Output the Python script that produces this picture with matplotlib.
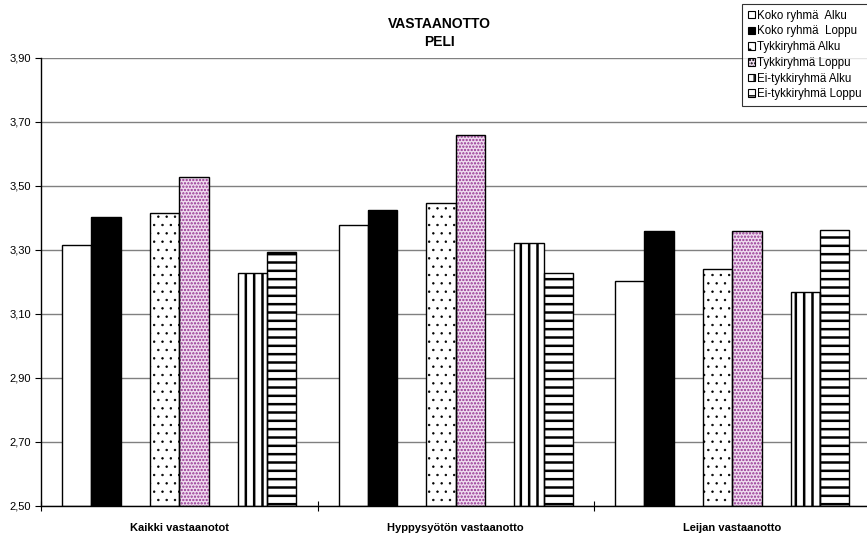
import matplotlib
matplotlib.use('Agg')
import matplotlib.pyplot as plt
from matplotlib.patches import Patch
import numpy as np

plt.rcParams['font.family'] = ['Liberation Sans', 'DejaVu Sans']

categories = ['Kaikki vastaanotot', 'Hyppysyötön vastaanotto', 'Leijan vastaanotto']
series_names = ['Koko ryhmä  Alku', 'Koko ryhmä  Loppu', 'Tykkiryhmä Alku',
                'Tykkiryhmä Loppu', 'Ei-tykkiryhmä Alku', 'Ei-tykkiryhmä Loppu']
koko_alku = [3.316, 3.378, 3.203]
koko_loppu = [3.403, 3.426, 3.360]
tykki_alku = [3.417, 3.447, 3.242]
tykki_loppu = [3.529, 3.659, 3.359]
ei_alku = [3.227, 3.321, 3.168]
ei_loppu = [3.293, 3.227, 3.362]
values = [koko_alku, koko_loppu, tykki_alku, tykki_loppu, ei_alku, ei_loppu]

# style per series: facecolor, hatch, hatch colour, hatch linewidth
styles = [
    ('white', None, 'black', 1.0),
    ('black', None, 'black', 1.0),
    ('white', '..', 'black', 0.5),
    ('#efdcef', '.....', '#93308f', 1.1),
    ('white', '||', 'black', 1.8),
    ('white', '--', 'black', 1.8),
]
slots = [-3.5, -2.5, -0.5, 0.5, 2.5, 3.5]
w = 0.1058
base = 2.5

fig = plt.figure(figsize=(8.67, 5.35), dpi=100)
ax = fig.add_axes([41 / 867, 1 - 506 / 535, 829.5 / 867, 448 / 535])

x = np.arange(len(categories)) + 0.5
handles = []
for vals, (fc, hatch, hc, hlw), s, name in zip(values, styles, slots, series_names):
    heights = np.array(vals) - base
    with plt.rc_context({'hatch.linewidth': hlw}):
        ax.bar(x + s * w, heights, w, bottom=base, color=fc, hatch=hatch,
               edgecolor=hc, linewidth=0, zorder=2)
    ax.bar(x + s * w, heights, w, bottom=base, fill=False,
           edgecolor='black', linewidth=1.0, zorder=3)
    with plt.rc_context({'hatch.linewidth': min(hlw, 1.0)}):
        handles.append(Patch(facecolor=fc, hatch=hatch, edgecolor='black',
                             linewidth=0.8, label=name))

ax.set_xlim(0, 3)
ax.set_ylim(2.5, 3.9)
yt = np.arange(2.5, 3.91, 0.2)
ax.set_yticks(yt)
ax.set_yticklabels([f'{v:.2f}'.replace('.', ',') for v in yt], fontsize=8)
ax.set_xticks([0, 1, 2, 3])
ax.set_xticklabels([])
ax.set_xticks(x, minor=True)
ax.set_xticklabels(categories, minor=True, fontsize=8, fontweight='bold')
ax.tick_params(axis='x', which='minor', length=0, pad=12)
ax.tick_params(axis='x', which='major', direction='inout', length=7, width=0.8)
ax.tick_params(axis='y', direction='out', length=4, width=0.8, pad=3)
ax.yaxis.grid(True, color='#808080', linewidth=1.0, zorder=0)
ax.set_axisbelow(True)
for sp in ['top', 'right']:
    ax.spines[sp].set_visible(False)
for sp in ['left', 'bottom']:
    ax.spines[sp].set_linewidth(1.0)

fig.text(439 / 867, 1 - 33 / 535, 'VASTAANOTTO\nPELI', ha='center', va='center',
         fontsize=10, fontweight='bold', linespacing=1.3)

leg = fig.legend(handles=handles, loc='upper left', bbox_to_anchor=(742 / 867, 1 - 4 / 535),
                 fontsize=8.3, frameon=True, fancybox=False, handlelength=0.62,
                 handleheight=0.62, handletextpad=0.22, labelspacing=0.32,
                 borderpad=0.5, borderaxespad=0)
leg.get_frame().set_edgecolor('black')
leg.get_frame().set_linewidth(0.8)

fig.savefig('out.png', dpi=100)
